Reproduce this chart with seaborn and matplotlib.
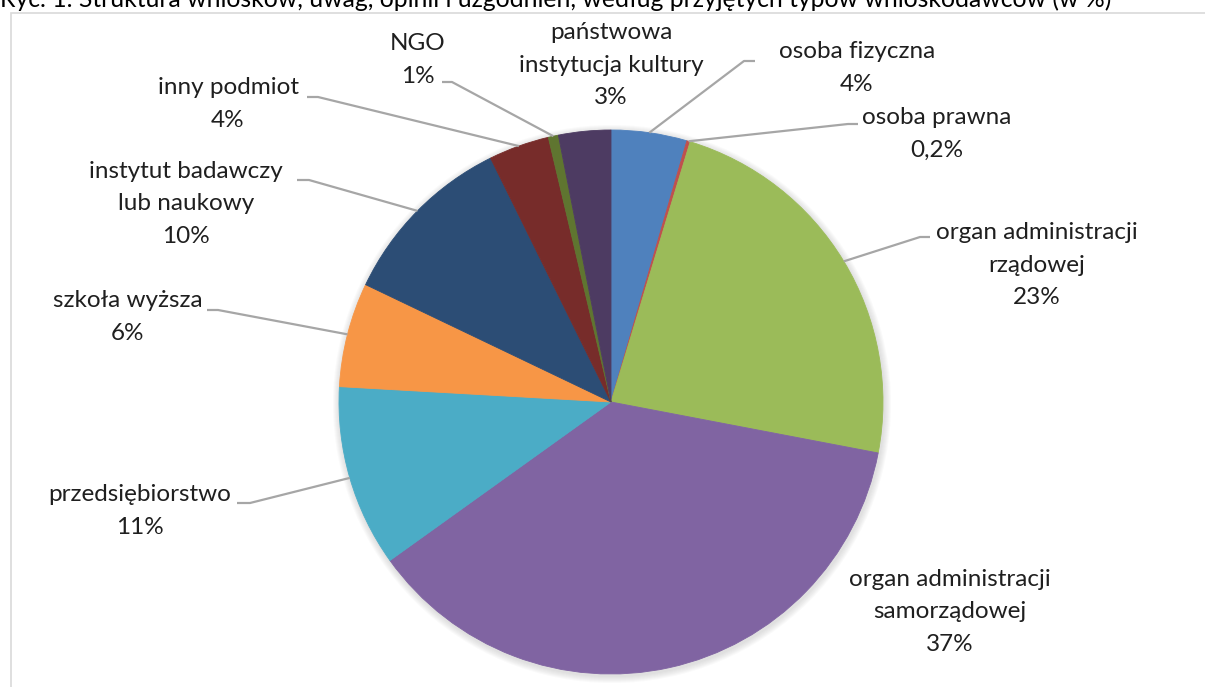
import numpy as np
import matplotlib
matplotlib.use("Agg")
import matplotlib.pyplot as plt
from matplotlib.patches import Circle, Rectangle
import seaborn as sns

# data (shares in %, clockwise from 12 o'clock)
categories = [
    "osoba fizyczna",
    "osoba prawna",
    "organ administracji\nrządowej",
    "organ administracji\nsamorządowej",
    "przedsiębiorstwo",
    "szkoła wyższa",
    "instytut badawczy\nlub naukowy",
    "inny podmiot",
    "NGO",
    "państwowa\ninstytucja kultury",
]
shares = [4.5, 0.2, 23.3, 37.1, 10.8, 6.2, 10.6, 3.6, 0.6, 3.1]
pct_labels = ["4%", "0,2%", "23%", "37%", "11%", "6%", "10%", "4%", "1%", "3%"]
colors = ["#4F81BD", "#C0504D", "#9BBB59", "#8064A2", "#4BACC6",
          "#F79646", "#2C4D75", "#772C2A", "#5F7530", "#4D3B62"]
title = "Ryc. 1. Struktura wniosków, uwag, opinii i uzgodnień, według przyjętych typów wnioskodawców (w %)"

W, H = 1205, 687
CX, CY, R = 611, 402, 272  # pixel space, y from top

# label block centres (px) and leader elbows (px) ; None = no leader line
label_pos = [(857, 68), (937, 134), (1037, 265), (950, 612), (140, 511),
             (128, 317), (186, 204), (228, 104), (418, 60), (611, 65)]
elbows = [((744, 61), (755, 61)), ((848, 124), (858, 124)),
          ((920, 237), (930, 237)), None, ((250, 503), (237, 503)),
          ((218, 310), (207, 310)), ((309, 180), (297, 180)),
          ((318, 97), (307, 97)), ((452, 82), (442, 82)), None]


def Y(py):
    return H - py


sns.set_theme(style="white")
plt.rcParams["font.family"] = ["Lato", "DejaVu Sans"]

fig = plt.figure(figsize=(W / 100, H / 100), dpi=100)
ax = fig.add_axes([0, 0, 1, 1])

# soft shadow behind the pie
for k in range(1, 8):
    ax.add_patch(Circle((CX + 1, Y(CY) - 2), R + k, color="#7f7f7f",
                        alpha=0.035, lw=0, zorder=0))

wedges, _ = ax.pie(shares, colors=colors, startangle=90, counterclock=False,
                   center=(CX, Y(CY)), radius=R, frame=False,
                   wedgeprops=dict(linewidth=0.6, edgecolor="white"))
for w, c in zip(wedges, colors):
    w.set_zorder(2)
    w.set_edgecolor(c)

ax.set_xlim(0, W)
ax.set_ylim(0, H)
ax.set_aspect("equal")
ax.axis("off")

text_color = "#1f1f1f"
line_color = "#A6A6A6"
for i, w in enumerate(wedges):
    label = f"{categories[i]}\n{pct_labels[i]}"
    lx, ly = label_pos[i]
    ax.text(lx, Y(ly), label, ha="center", va="center", fontsize=17.5,
            color=text_color, linespacing=1.65, zorder=5)
    if elbows[i] is None:
        continue
    mid = np.deg2rad((w.theta1 + w.theta2) / 2)
    ex = CX + R * np.cos(mid)
    ey = Y(CY) + R * np.sin(mid)
    (bx, by), (tx, ty) = elbows[i]
    ax.plot([ex, bx, tx], [ey, Y(by), Y(ty)], color=line_color, lw=1.6,
            solid_capstyle="butt", zorder=3)

# chart area frame
ax.add_patch(Rectangle((10.5, -5), W, Y(12.5) + 5, fill=False,
                       edgecolor="#D9D9D9", lw=1.2, zorder=1))

# caption cut off at the top edge
fig.text(0, Y(7) / H, title, ha="left", va="baseline", fontsize=17.8,
         color="black")

fig.savefig("out.png", dpi=100)
